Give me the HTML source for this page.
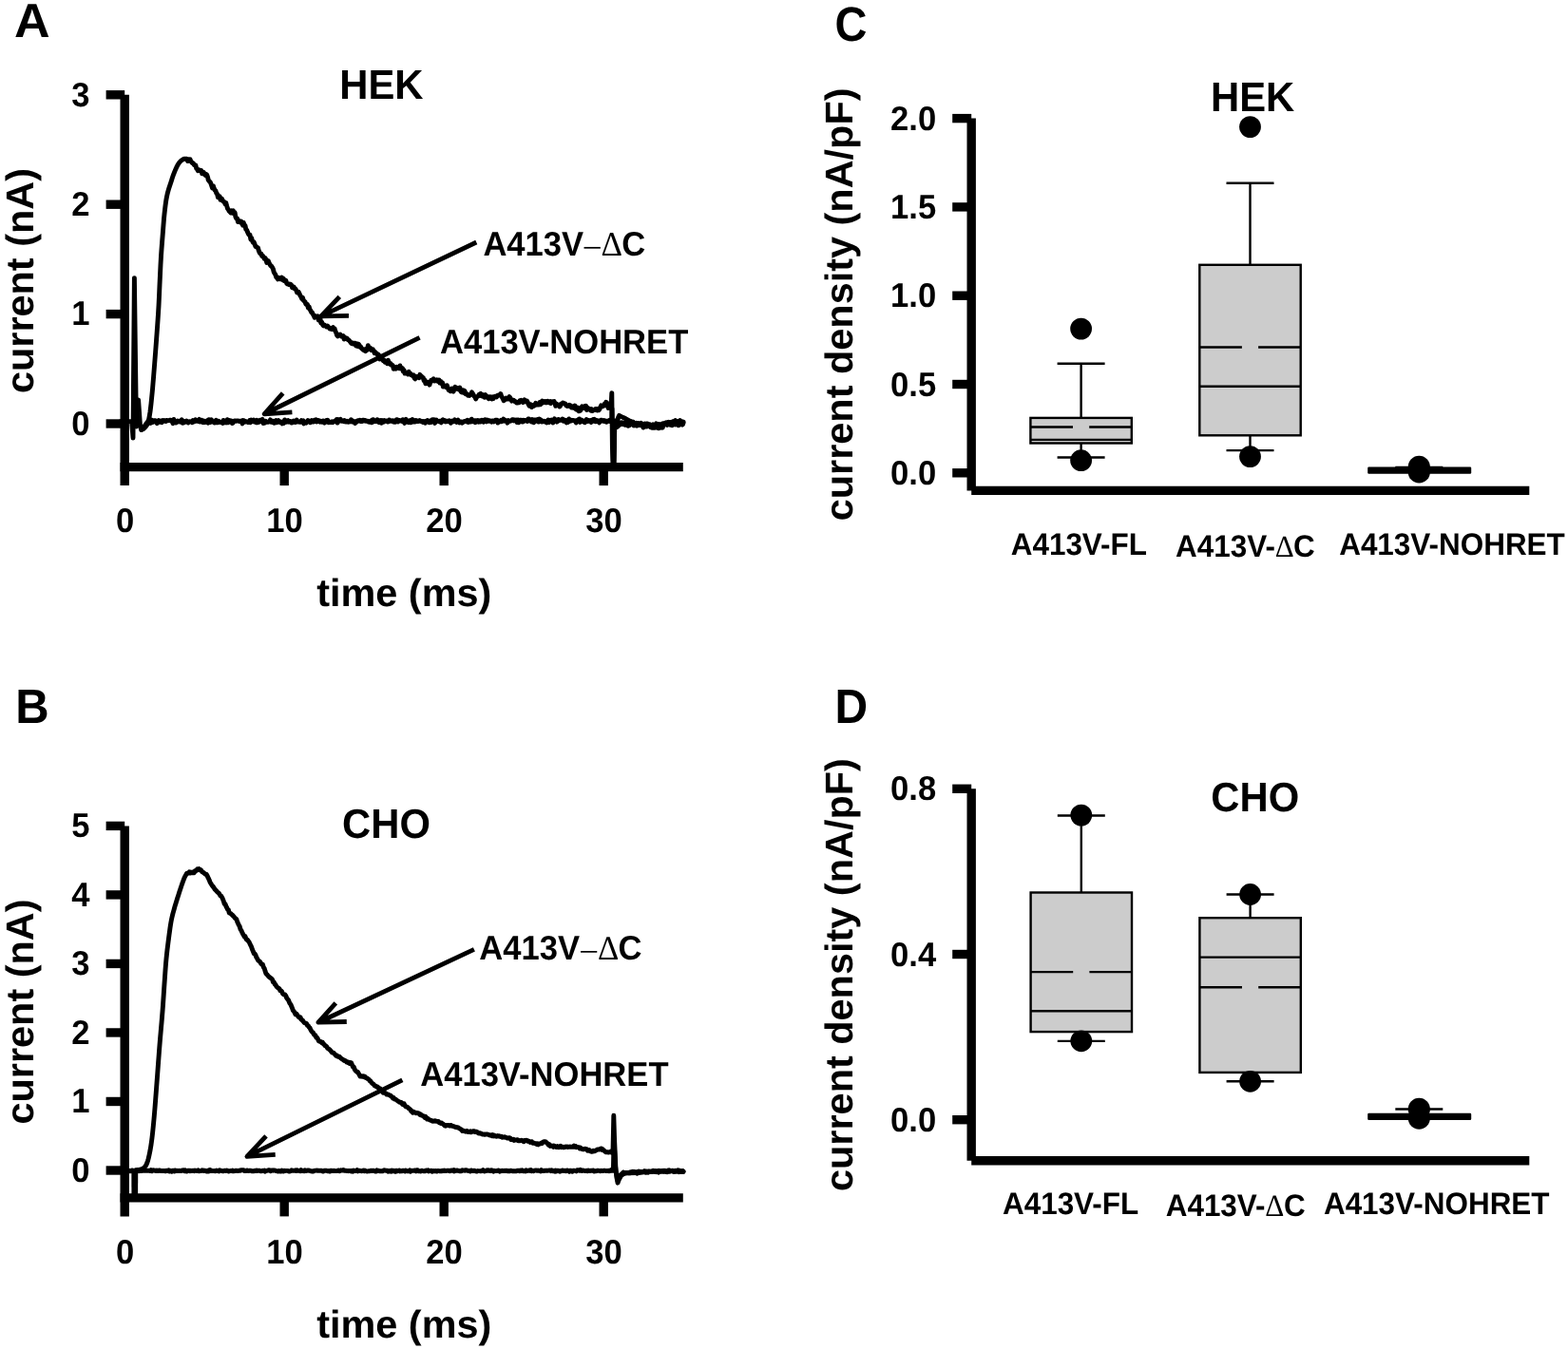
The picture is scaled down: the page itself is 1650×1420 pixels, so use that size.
<!DOCTYPE html>
<html lang="en">
<head>
<meta charset="utf-8">
<title>Figure: A413V currents in HEK and CHO cells</title>
<style>
html, body { margin: 0; padding: 0; background: #ffffff; }
body { width: 1650px; height: 1420px; overflow: hidden; }
svg { display: block; }
svg text { font-family: "Liberation Sans", sans-serif; font-weight: bold; fill: #000; text-rendering: geometricPrecision; }
svg line { stroke: #000; }
</style>
</head>
<body>
<svg width="1650" height="1420" viewBox="0 0 1650 1420" role="img" aria-label="Whole-cell currents and current densities of A413V constructs in HEK and CHO cells">
<rect x="0" y="0" width="1650" height="1420" fill="#ffffff"/>
<text transform="translate(15.098 39) scale(1 0.972)" font-size="52.09">A</text>
<text transform="translate(357.249 103.85) scale(1 1.04)" font-size="41.8">HEK</text>
<text transform="translate(35.1 414.092) rotate(-90) scale(1 0.985)" font-size="41.45">current (nA)</text>
<text transform="translate(333.155 638.2) scale(1 0.985)" font-size="41.45">time (ms)</text>
<polyline points="127.0,443.6 138.6,443.6 140.0,461.0 141.4,292.6 143.4,449.0 145.6,421.0 147.4,447.0 148.6,452.6 150.5,451.5 152.5,448.0 155.0,444.5 158.0,443.6" fill="none" stroke="#000" stroke-width="4.9" stroke-linejoin="round" stroke-linecap="round"/>
<polyline points="156.0,443.5 156.8,443.7 157.7,441.6 158.5,445.4 159.4,442.0 160.2,443.0 161.0,444.3 161.9,442.6 162.7,442.6 163.6,442.7 164.4,444.1 165.2,445.6 166.1,443.7 166.9,442.7 167.8,444.3 168.6,443.1 169.4,443.6 170.3,444.6 171.1,442.5 172.0,443.3 172.8,442.5 173.6,443.2 174.5,443.6 175.3,442.4 176.2,442.7 177.0,442.8 177.8,442.5 178.7,442.2 179.5,442.1 180.4,443.5 181.2,443.4 182.0,445.7 182.9,441.5 183.7,443.8 184.6,444.1 185.4,445.0 186.2,444.3 187.1,443.0 187.9,443.7 188.8,444.0 189.6,443.2 190.4,444.2 191.3,441.7 192.1,445.2 193.0,445.1 193.8,443.5 194.6,444.4 195.5,443.9 196.3,443.0 197.2,444.0 198.0,445.0 198.8,443.8 199.7,443.6 200.5,443.8 201.4,444.1 202.2,444.7 203.0,442.6 203.9,444.0 204.7,443.7 205.6,441.7 206.4,442.9 207.2,443.3 208.1,443.2 208.9,443.6 209.8,441.4 210.6,443.9 211.4,443.1 212.3,442.4 213.1,444.5 214.0,444.7 214.8,443.1 215.6,444.5 216.5,443.5 217.3,443.7 218.2,442.7 219.0,445.2 219.8,441.7 220.7,443.6 221.5,444.3 222.4,441.7 223.2,443.6 224.0,443.7 224.9,444.6 225.7,445.0 226.6,443.4 227.4,442.4 228.2,444.9 229.1,444.8 229.9,443.2 230.8,444.0 231.6,444.1 232.4,444.6 233.3,444.3 234.1,445.4 235.0,442.4 235.8,444.9 236.6,444.0 237.5,443.5 238.3,444.9 239.2,441.7 240.0,444.8 240.8,444.0 241.7,442.6 242.5,443.9 243.4,443.2 244.2,445.6 245.0,445.3 245.9,443.8 246.7,443.0 247.6,443.0 248.4,443.3 249.2,443.1 250.1,442.9 250.9,443.1 251.8,443.5 252.6,443.3 253.4,443.3 254.3,442.9 255.1,445.9 256.0,442.6 256.8,442.9 257.6,444.2 258.5,443.5 259.3,443.8 260.2,444.0 261.0,444.6 261.8,444.2 262.7,442.6 263.5,444.7 264.4,442.0 265.2,443.5 266.0,443.0 266.9,442.2 267.7,443.9 268.6,443.2 269.4,444.6 270.2,442.4 271.1,444.8 271.9,444.5 272.8,444.2 273.6,442.4 274.4,443.3 275.3,442.0 276.1,441.4 277.0,445.5 277.8,444.3 278.6,445.2 279.5,443.2 280.3,444.2 281.2,444.3 282.0,444.3 282.8,443.8 283.7,443.5 284.5,441.9 285.4,444.3 286.2,444.1 287.0,444.6 287.9,443.4 288.7,445.2 289.6,443.2 290.4,442.5 291.2,444.7 292.1,443.2 292.9,442.6 293.8,443.9 294.6,444.5 295.4,444.0 296.3,444.2 297.1,445.9 298.0,444.5 298.8,445.3 299.6,441.9 300.5,444.1 301.3,444.3 302.2,443.2 303.0,442.7 303.8,444.1 304.7,443.7 305.5,443.5 306.4,445.0 307.2,445.1 308.0,443.9 308.9,443.0 309.7,444.1 310.6,444.6 311.4,444.3 312.2,442.1 313.1,443.4 313.9,443.9 314.8,444.2 315.6,444.4 316.4,444.4 317.3,442.6 318.1,443.1 319.0,442.8 319.8,445.9 320.6,444.4 321.5,444.7 322.3,445.1 323.2,443.5 324.0,442.5 324.8,443.2 325.7,443.3 326.5,444.8 327.4,444.2 328.2,442.6 329.0,444.1 329.9,444.1 330.7,442.4 331.6,443.5 332.4,441.8 333.2,443.9 334.1,443.5 334.9,442.5 335.8,443.0 336.6,444.1 337.4,443.4 338.3,444.2 339.1,444.4 340.0,443.0 340.8,443.1 341.6,445.1 342.5,443.3 343.3,442.6 344.2,443.5 345.0,442.4 345.8,444.8 346.7,444.1 347.5,444.6 348.4,444.5 349.2,443.9 350.0,444.7 350.9,444.1 351.7,443.4 352.6,443.0 353.4,443.4 354.2,441.6 355.1,445.1 355.9,441.6 356.8,443.2 357.6,442.2 358.4,441.4 359.3,443.3 360.1,443.2 361.0,443.2 361.8,443.7 362.6,442.7 363.5,443.8 364.3,444.1 365.2,443.3 366.0,443.6 366.8,444.2 367.7,444.0 368.5,443.9 369.4,441.7 370.2,443.8 371.0,444.1 371.9,443.3 372.7,443.9 373.6,445.5 374.4,443.8 375.2,444.4 376.1,442.9 376.9,442.7 377.8,443.1 378.6,442.4 379.4,443.5 380.3,442.7 381.1,443.4 382.0,442.2 382.8,442.1 383.6,443.0 384.5,442.6 385.3,443.3 386.2,443.2 387.0,443.2 387.8,444.2 388.7,444.4 389.5,443.6 390.4,442.8 391.2,444.8 392.0,441.9 392.9,441.7 393.7,443.8 394.6,443.3 395.4,443.3 396.2,443.6 397.1,441.8 397.9,442.3 398.8,444.5 399.6,444.2 400.4,442.5 401.3,445.3 402.1,442.6 403.0,443.2 403.8,444.1 404.6,442.6 405.5,443.1 406.3,443.2 407.2,442.9 408.0,444.0 408.8,443.8 409.7,442.0 410.5,442.5 411.4,443.4 412.2,443.2 413.0,442.7 413.9,444.0 414.7,444.2 415.6,442.7 416.4,444.2 417.2,441.8 418.1,441.8 418.9,443.9 419.8,442.6 420.6,442.4 421.4,443.0 422.3,442.5 423.1,443.5 424.0,441.7 424.8,442.8 425.6,445.4 426.5,443.4 427.3,441.4 428.2,443.8 429.0,443.9 429.8,444.6 430.7,443.4 431.5,442.7 432.4,444.7 433.2,444.0 434.0,441.6 434.9,444.0 435.7,442.8 436.6,444.0 437.4,442.5 438.2,443.4 439.1,443.0 439.9,443.6 440.8,443.1 441.6,442.6 442.4,443.1 443.3,443.7 444.1,443.4 445.0,444.5 445.8,443.6 446.6,443.9 447.5,445.2 448.3,443.3 449.2,443.7 450.0,442.6 450.8,443.3 451.7,444.8 452.5,443.4 453.4,444.5 454.2,442.1 455.0,441.7 455.9,443.3 456.7,441.7 457.6,445.4 458.4,444.3 459.2,442.1 460.1,443.1 460.9,443.1 461.8,443.7 462.6,443.3 463.4,444.1 464.3,444.8 465.1,442.7 466.0,441.9 466.8,443.3 467.6,442.7 468.5,443.9 469.3,443.0 470.2,443.7 471.0,443.4 471.8,443.0 472.7,442.7 473.5,443.6 474.4,445.3 475.2,443.9 476.0,443.0 476.9,443.8 477.7,443.2 478.6,441.9 479.4,443.3 480.2,444.4 481.1,442.7 481.9,442.0 482.8,443.6 483.6,444.9 484.4,443.9 485.3,444.0 486.1,445.2 487.0,444.8 487.8,444.0 488.6,443.4 489.5,443.6 490.3,443.1 491.2,443.9 492.0,442.2 492.8,444.5 493.7,443.3 494.5,442.8 495.4,444.0 496.2,441.2 497.0,442.3 497.9,442.6 498.7,444.0 499.6,442.9 500.4,444.6 501.2,442.7 502.1,443.7 502.9,442.6 503.8,444.2 504.6,443.1 505.4,443.9 506.3,442.7 507.1,442.2 508.0,443.0 508.8,444.2 509.6,442.2 510.5,441.7 511.3,442.8 512.2,443.8 513.0,442.1 513.8,442.6 514.7,443.3 515.5,442.8 516.4,443.3 517.2,444.1 518.0,443.0 518.9,443.0 519.7,443.9 520.6,443.1 521.4,442.3 522.2,442.2 523.1,442.1 523.9,445.1 524.8,443.5 525.6,443.9 526.4,443.9 527.3,442.3 528.1,443.7 529.0,442.5 529.8,441.2 530.6,443.1 531.5,442.2 532.3,442.8 533.2,443.4 534.0,445.1 534.8,442.6 535.7,442.9 536.5,443.3 537.4,443.1 538.2,442.7 539.0,441.7 539.9,441.8 540.7,442.8 541.6,442.1 542.4,442.8 543.2,442.2 544.1,444.5 544.9,441.9 545.8,444.8 546.6,442.4 547.4,442.3 548.3,442.2 549.1,443.9 550.0,444.1 550.8,442.2 551.6,443.1 552.5,442.5 553.3,442.6 554.2,442.9 555.0,443.5 555.8,441.0 556.7,440.9 557.5,443.0 558.4,442.9 559.2,443.8 560.0,441.6 560.9,442.2 561.7,444.8 562.6,441.9 563.4,443.5 564.2,442.3 565.1,442.6 565.9,441.5 566.8,444.1 567.6,441.0 568.4,441.7 569.3,442.0 570.1,443.9 571.0,443.3 571.8,443.7 572.6,443.3 573.5,443.6 574.3,444.1 575.2,444.9 576.0,443.8 576.8,442.0 577.7,444.6 578.5,443.4 579.4,442.3 580.2,443.2 581.0,442.1 581.9,444.9 582.7,442.5 583.6,440.8 584.4,442.9 585.2,442.1 586.1,444.1 586.9,443.3 587.8,441.5 588.6,442.6 589.4,441.9 590.3,442.3 591.1,442.3 592.0,441.0 592.8,443.2 593.6,442.3 594.5,442.2 595.3,443.8 596.2,444.9 597.0,442.4 597.8,444.5 598.7,440.9 599.5,443.5 600.4,442.6 601.2,443.0 602.0,442.3 602.9,442.5 603.7,442.7 604.6,442.7 605.4,443.4 606.2,445.0 607.1,442.4 607.9,442.9 608.8,441.4 609.6,441.0 610.4,444.4 611.3,441.9 612.1,442.3 613.0,443.0 613.8,443.9 614.6,443.3 615.5,444.8 616.3,443.1 617.2,441.6 618.0,443.5 618.8,443.6 619.7,442.6 620.5,442.9 621.4,442.5 622.2,444.5 623.0,442.4 623.9,441.7 624.7,443.3 625.6,441.4 626.4,443.7 627.2,443.7 628.1,442.6 628.9,442.9 629.8,442.9 630.6,444.9 631.4,443.8 632.3,442.1 633.1,442.2 634.0,443.1 634.8,443.3 635.6,442.6 636.5,443.6 637.3,443.0 638.2,444.2 639.0,443.6 639.8,443.0 640.7,443.3 641.5,442.4" fill="none" stroke="#000" stroke-width="4.9" stroke-linejoin="round" stroke-linecap="round"/>
<polyline points="150.0,452.0 150.5,451.7 151.0,451.4 151.5,451.0 152.0,450.5 152.5,450.0 153.0,449.5 153.5,448.9 154.0,448.3 154.5,447.5 155.0,446.6 155.5,445.5 156.0,444.0 156.5,441.9 157.0,439.4 157.5,436.6 158.0,433.4 158.5,429.4 159.0,424.9 159.5,420.0 160.0,415.0 160.5,409.7 161.0,403.8 161.5,397.7 162.0,391.4 162.5,385.0 163.0,378.6 163.5,372.1 164.0,365.5 164.5,358.8 165.0,351.8 165.5,344.8 166.0,337.8 166.5,330.4 167.0,322.0 167.5,311.5 168.0,299.9 168.5,289.1 169.0,278.5 169.5,269.6 170.0,262.3 170.5,255.7 171.0,249.5 171.5,243.1 172.0,236.6 172.5,230.4 173.0,225.2 173.5,220.7 174.0,216.6 174.5,212.9 175.0,209.7 175.5,207.0 176.0,204.7 176.5,202.7 177.0,200.8 177.5,199.1 178.0,197.6 178.5,196.0 179.0,194.5 179.5,193.0 180.0,191.5 180.5,189.9 181.0,188.3 181.5,186.8 182.0,185.3 182.5,183.9 183.0,182.6 183.5,181.3 184.0,180.1 184.5,178.9 185.0,177.8 185.5,176.7 186.0,175.6 186.5,174.6 187.0,173.7 187.5,172.8 188.0,172.1 188.5,171.4 189.0,170.8 189.5,170.2 190.0,169.6 190.5,169.2 191.0,168.8 191.5,168.5 192.0,168.1 192.5,167.8 193.0,167.5 193.5,167.3 194.0,167.2 194.5,167.2 195.0,167.2 195.5,167.2 196.0,167.3 196.5,167.3 197.0,167.4 197.5,167.6" fill="none" stroke="#000" stroke-width="4.9" stroke-linejoin="round" stroke-linecap="round"/>
<polyline points="197.5,169.5 198.3,168.7 199.2,169.1 200.0,167.7 200.9,170.0 201.7,170.6 202.5,171.6 203.4,171.9 204.2,173.5 205.1,173.9 205.9,174.0 206.7,177.3 207.6,178.2 208.4,179.8 209.3,178.8 210.1,179.1 210.9,179.7 211.8,179.4 212.6,182.8 213.5,181.4 214.3,181.5 215.1,182.6 216.0,184.4 216.8,183.4 217.7,184.0 218.5,186.3 219.3,189.6 220.2,190.8 221.0,191.4 221.9,193.2 222.7,195.5 223.5,198.0 224.4,195.8 225.2,198.4 226.1,200.2 226.9,200.8 227.7,203.3 228.6,204.2 229.4,207.6 230.3,207.3 231.1,206.8 231.9,210.2 232.8,210.0 233.6,209.4 234.5,211.4 235.3,212.2 236.1,212.7 237.0,214.7 237.8,213.6 238.7,216.9 239.5,219.5 240.3,220.6 241.2,222.2 242.0,223.0 242.9,223.9 243.7,221.7 244.5,224.2 245.4,221.9 246.2,223.8 247.1,223.7 247.9,228.3 248.7,230.0 249.6,229.9 250.4,233.5 251.3,232.3 252.1,233.6 252.9,234.0 253.8,233.2 254.6,235.1 255.5,237.1 256.3,234.4 257.1,236.9 258.0,237.4 258.8,241.4 259.7,242.1 260.5,244.3 261.3,246.1 262.2,247.4 263.0,247.3 263.9,252.0 264.7,250.7 265.5,253.6 266.4,255.2 267.2,254.9 268.1,257.2 268.9,259.5 269.7,259.7 270.6,260.5 271.4,260.8 272.3,263.9 273.1,265.9 273.9,266.8 274.8,267.1 275.6,269.4 276.5,269.2 277.3,270.5 278.1,272.2 279.0,271.5 279.8,272.9 280.7,276.4 281.5,276.0 282.3,274.6 283.2,276.8 284.0,278.3 284.9,279.9 285.7,280.3 286.5,281.4 287.4,283.1 288.2,286.4 289.1,288.0 289.9,289.2 290.7,291.7 291.6,292.6 292.4,293.8 293.3,292.3 294.1,293.5 294.9,293.9 295.8,293.5 296.6,292.1 297.5,294.6 298.3,293.4 299.1,295.6 300.0,295.3 300.8,295.2 301.7,298.2 302.5,299.0 303.3,298.9 304.2,299.6 305.0,299.0 305.9,299.3 306.7,300.2 307.5,302.7 308.4,302.1 309.2,301.9 310.1,304.1 310.9,304.2 311.7,305.4 312.6,307.9 313.4,307.6 314.3,307.4 315.1,309.2 315.9,311.2 316.8,312.3 317.6,314.4 318.5,313.4 319.3,316.0 320.1,316.9 321.0,317.6 321.8,319.9 322.7,320.8 323.5,320.6 324.3,323.9 325.2,322.8 326.0,325.6 326.9,326.9 327.7,328.7 328.5,328.9 329.4,331.0 330.2,332.2 331.1,334.2 331.9,332.6 332.7,333.8 333.6,333.7 334.4,332.9 335.3,336.9 336.1,334.9 336.9,335.2 337.8,340.0 338.6,339.1 339.5,341.7 340.3,342.8 341.1,341.8 342.0,342.6 342.8,343.0 343.7,344.0 344.5,343.0 345.3,343.9 346.2,344.9 347.0,346.0 347.9,345.5 348.7,346.5 349.5,345.3 350.4,344.6 351.2,346.5 352.1,346.0 352.9,348.6 353.7,350.1 354.6,352.9 355.4,353.8 356.3,352.7 357.1,352.8 357.9,352.0 358.8,353.6 359.6,354.2 360.5,354.6 361.3,353.6 362.1,357.0 363.0,356.7 363.8,355.8 364.7,355.9 365.5,356.6 366.3,357.7 367.2,358.0 368.0,359.2 368.9,360.1 369.7,361.4 370.5,361.8 371.4,361.1 372.2,362.0 373.1,361.3 373.9,361.3 374.7,364.1 375.6,361.8 376.4,364.5 377.3,362.2 378.1,363.2 378.9,365.3 379.8,365.3 380.6,366.9 381.5,367.4 382.3,368.3 383.1,368.9 384.0,367.8 384.8,369.6 385.7,367.0 386.5,368.4 387.3,363.7 388.2,366.1 389.0,367.1 389.9,366.6 390.7,368.5 391.5,368.4 392.4,367.9 393.2,369.1 394.1,371.7 394.9,370.7 395.7,371.7 396.6,372.0 397.4,373.6 398.3,373.2 399.1,375.0 399.9,378.0 400.8,377.3 401.6,377.4 402.5,378.4 403.3,379.7 404.1,378.9 405.0,381.1 405.8,380.7 406.7,380.4 407.5,382.7 408.3,379.2 409.2,381.6 410.0,383.1 410.9,382.5 411.7,384.0 412.5,384.1 413.4,384.7 414.2,388.3 415.1,387.3 415.9,386.8 416.7,388.1 417.6,386.2 418.4,387.2 419.3,386.4 420.1,387.6 420.9,384.9 421.8,388.1 422.6,388.2 423.5,387.7 424.3,390.9 425.1,389.6 426.0,393.1 426.8,392.5 427.7,393.0 428.5,392.7 429.3,393.9 430.2,391.3 431.0,393.6 431.9,393.3 432.7,394.7 433.5,394.7 434.4,395.9 435.2,394.8 436.1,398.0 436.9,398.8 437.7,396.4 438.6,396.4 439.4,396.5 440.3,397.3 441.1,397.7 441.9,394.3 442.8,395.7 443.6,396.2 444.5,397.1 445.3,397.6 446.1,400.6 447.0,400.0 447.8,403.8 448.7,403.8 449.5,402.1 450.3,402.3 451.2,403.1 452.0,405.1 452.9,401.9 453.7,400.4 454.5,401.1 455.4,400.7 456.2,398.8 457.1,400.9 457.9,400.0 458.7,400.7 459.6,399.9 460.4,401.3 461.3,401.6 462.1,400.0 462.9,403.1 463.8,401.5 464.6,403.8 465.5,402.8 466.3,407.0 467.1,405.7 468.0,406.8 468.8,407.4 469.7,405.9 470.5,405.8 471.3,408.6 472.2,410.7 473.0,410.7 473.9,411.9 474.7,411.8 475.5,409.0 476.4,410.6 477.2,412.1 478.1,409.1 478.9,407.3 479.7,408.9 480.6,408.4 481.4,409.5 482.3,408.5 483.1,410.0 483.9,408.0 484.8,411.6 485.6,412.8 486.5,413.1 487.3,410.8 488.1,413.4 489.0,411.4 489.8,414.7 490.7,415.0 491.5,414.7 492.3,416.2 493.2,415.8 494.0,416.4 494.9,415.4 495.7,415.3 496.5,412.8 497.4,414.2 498.2,415.6 499.1,417.2 499.9,417.6 500.7,419.9 501.6,418.0 502.4,417.5 503.3,416.9 504.1,415.2 504.9,415.1 505.8,414.3 506.6,416.8 507.5,415.3 508.3,417.2 509.1,416.3 510.0,418.3 510.8,415.6 511.7,418.0 512.5,417.3 513.3,418.4 514.2,419.7 515.0,417.6 515.9,417.7 516.7,418.4 517.5,420.0 518.4,417.9 519.2,419.5 520.1,417.6 520.9,417.2 521.7,417.6 522.6,417.9 523.4,416.3 524.3,416.0 525.1,416.0 525.9,415.9 526.8,414.5 527.6,417.0 528.5,418.3 529.3,420.0 530.1,421.7 531.0,420.9 531.8,420.5 532.7,419.0 533.5,419.7 534.3,420.0 535.2,420.1 536.0,417.5 536.9,418.9 537.7,420.2 538.5,422.1 539.4,421.2 540.2,421.1 541.1,421.7 541.9,422.8 542.7,422.8 543.6,424.1 544.4,424.1 545.3,423.5 546.1,423.8 546.9,421.8 547.8,422.4 548.6,421.4 549.5,422.1 550.3,423.6 551.1,422.6 552.0,420.9 552.8,422.8 553.7,422.6 554.5,422.0 555.3,423.4 556.2,425.8 557.0,427.1 557.9,425.5 558.7,427.6 559.5,428.4 560.4,426.5 561.2,427.5 562.1,427.0 562.9,426.7 563.7,424.3 564.6,425.1 565.4,426.1 566.3,425.8 567.1,426.0 567.9,423.6 568.8,425.7 569.6,424.3 570.5,422.0 571.3,424.0 572.1,422.7 573.0,423.4 573.8,422.6 574.7,423.8 575.5,422.7 576.3,422.3 577.2,423.7 578.0,423.1 578.9,422.6 579.7,424.5 580.5,422.9 581.4,422.8 582.2,423.0 583.1,422.6 583.9,424.2 584.7,427.3 585.6,425.0 586.4,426.6 587.3,426.1 588.1,426.2 588.9,428.0 589.8,426.9 590.6,424.9 591.5,425.1 592.3,424.0 593.1,424.4 594.0,424.6 594.8,425.0 595.7,426.7 596.5,427.3 597.3,427.5 598.2,427.2 599.0,426.3 599.9,427.9 600.7,427.1 601.5,429.1 602.4,428.9 603.2,429.2 604.1,428.1 604.9,427.0 605.7,430.4 606.6,431.2 607.4,428.9 608.3,431.1 609.1,432.8 609.9,429.7 610.8,432.1 611.6,429.2 612.5,427.9 613.3,429.8 614.1,428.3 615.0,427.7 615.8,429.8 616.7,427.2 617.5,431.6 618.3,429.2 619.2,430.7 620.0,430.2 620.9,431.4 621.7,432.1 622.5,430.6 623.4,432.5 624.2,431.6 625.1,431.3 625.9,431.5 626.7,430.5 627.6,430.4 628.4,432.0 629.3,430.6 630.1,431.7 630.9,430.7 631.8,428.5 632.6,426.9 633.5,427.4 634.3,427.7 635.1,426.9 636.0,425.4 636.8,426.8 637.7,423.3 638.5,423.8 639.3,426.3 640.2,429.5 641.0,428.7 641.9,427.6 642.7,429.5" fill="none" stroke="#000" stroke-width="4.9" stroke-linejoin="round" stroke-linecap="round"/>
<polyline points="643.0,429.0 643.8,413.6 644.4,470.0 645.0,489.0 646.3,489.0 646.6,452.0 647.5,443.0 649.6,449.4 650.3,440.0 651.6,437.4 654.0,438.6 657.0,440.0 660.0,441.6 663.2,443.4" fill="none" stroke="#000" stroke-width="4.9" stroke-linejoin="round" stroke-linecap="round"/>
<polyline points="642.0,443.6 643.8,443.6 644.0,430.0 645.4,489.0 646.4,470.0 646.8,447.0" fill="none" stroke="#000" stroke-width="4.9" stroke-linejoin="round" stroke-linecap="round"/>
<polyline points="646.8,447.1 647.6,447.4 648.5,445.7 649.3,447.3 650.2,446.0 651.0,444.7 651.8,445.6 652.7,446.7 653.5,446.3 654.4,444.7 655.2,446.3 656.0,445.4 656.9,445.8 657.7,445.6 658.6,444.0 659.4,445.4 660.2,444.3 661.1,446.3 661.9,445.3 662.8,444.5 663.6,443.5 664.4,444.8 665.3,445.2 666.1,444.1 667.0,447.8 667.8,446.2 668.6,447.8 669.5,445.2 670.3,448.2 671.2,445.4 672.0,446.2 672.8,447.6 673.7,447.3 674.5,445.2 675.4,446.4 676.2,448.5 677.0,450.0 677.9,448.9 678.7,447.8 679.6,449.0 680.4,447.2 681.2,448.9 682.1,447.2 682.9,448.6 683.8,448.6 684.6,449.6 685.4,448.6 686.3,450.3 687.1,449.0 688.0,450.3 688.8,450.4 689.6,448.0 690.5,450.0 691.3,450.2 692.2,449.6 693.0,450.7 693.8,448.8 694.7,450.2 695.5,449.5 696.4,448.8 697.2,450.1 698.0,447.8 698.9,447.1 699.7,445.9 700.6,446.4 701.4,444.8 702.2,446.6 703.1,444.5 703.9,445.1 704.8,446.7 705.6,445.6 706.4,444.5 707.3,445.4 708.1,443.8 709.0,444.4 709.8,443.4 710.6,442.7 711.5,444.2 712.3,444.9 713.2,443.8 714.0,443.3 714.8,444.1 715.7,442.6 716.5,444.4 717.4,443.8 718.2,446.8 719.0,444.1" fill="none" stroke="#000" stroke-width="4.9" stroke-linejoin="round" stroke-linecap="round"/>
<polyline points="646.8,446.7 647.6,446.1 648.5,448.5 649.3,446.2 650.2,446.6 651.0,448.0 651.8,445.6 652.7,445.9 653.5,446.6 654.4,446.2 655.2,445.5 656.0,446.5 656.9,446.4 657.7,447.2 658.6,445.1 659.4,446.0 660.2,447.8 661.1,448.3 661.9,445.6 662.8,447.5 663.6,445.9 664.4,446.0 665.3,446.0 666.1,446.3 667.0,447.7 667.8,447.1 668.6,446.4 669.5,446.1 670.3,446.6 671.2,446.4 672.0,447.5 672.8,446.4 673.7,447.0 674.5,446.7 675.4,446.7 676.2,446.9 677.0,446.6 677.9,447.6 678.7,446.0 679.6,447.6 680.4,446.0 681.2,445.9 682.1,446.4 682.9,446.8 683.8,446.8 684.6,447.8 685.4,447.8 686.3,447.5 687.1,446.8 688.0,447.1 688.8,448.6 689.6,447.4 690.5,445.9 691.3,446.5 692.2,446.5 693.0,447.8 693.8,446.5 694.7,448.5 695.5,446.9 696.4,446.3 697.2,445.8 698.0,447.2 698.9,446.1 699.7,445.4 700.6,446.8 701.4,446.4 702.2,447.4 703.1,446.4 703.9,444.4 704.8,447.1 705.6,444.5 706.4,447.6 707.3,447.7 708.1,445.6 709.0,445.0 709.8,444.7 710.6,446.9 711.5,445.8 712.3,445.4 713.2,445.7 714.0,447.8 714.8,446.2 715.7,446.5 716.5,446.6 717.4,446.9 718.2,447.1 719.0,445.3" fill="none" stroke="#000" stroke-width="4.9" stroke-linejoin="round" stroke-linecap="round"/>
<line x1="131.2" y1="99.8" x2="131.2" y2="511.1" stroke-width="9.4"/>
<line x1="126.49999999999999" y1="491.6" x2="718.8" y2="491.6" stroke-width="9.4"/>
<line x1="111.6" y1="446.0" x2="131.2" y2="446.0" stroke-width="9.4"/>
<text transform="translate(75.3 457.75) scale(1 1.04)" font-size="34.6">0</text>
<line x1="111.6" y1="330.6" x2="131.2" y2="330.6" stroke-width="9.4"/>
<text transform="translate(75.3 342.35) scale(1 1.04)" font-size="34.6">1</text>
<line x1="111.6" y1="215.2" x2="131.2" y2="215.2" stroke-width="9.4"/>
<text transform="translate(75.3 226.95) scale(1 1.04)" font-size="34.6">2</text>
<line x1="111.6" y1="99.79999999999995" x2="131.2" y2="99.79999999999995" stroke-width="9.4"/>
<text transform="translate(75.3 111.55) scale(1 1.04)" font-size="34.6">3</text>
<text transform="translate(131.5 560.45) scale(1 1.04)" font-size="34.6" text-anchor="middle">0</text>
<line x1="299.2" y1="491.6" x2="299.2" y2="511.1" stroke-width="9.4"/>
<text transform="translate(299.5 560.45) scale(1 1.04)" font-size="34.6" text-anchor="middle">10</text>
<line x1="467.2" y1="491.6" x2="467.2" y2="511.1" stroke-width="9.4"/>
<text transform="translate(467.5 560.45) scale(1 1.04)" font-size="34.6" text-anchor="middle">20</text>
<line x1="635.2" y1="491.6" x2="635.2" y2="511.1" stroke-width="9.4"/>
<text transform="translate(635.5 560.45) scale(1 1.04)" font-size="34.6" text-anchor="middle">30</text>
<path d="M501.3 255.0 L337.74 332.84 M357.3 312.4 L337.74 332.84 L367.0 332.4" fill="none" stroke="#000" stroke-width="4.8" stroke-linejoin="round" stroke-linecap="butt"/>
<path d="M441.6 355.4 L278.11 435.77 M297.7 413.9 L278.11 435.77 L307.4 433.8" fill="none" stroke="#000" stroke-width="4.8" stroke-linejoin="round" stroke-linecap="butt"/>
<text transform="translate(508.402 269) scale(1 1.04)" font-size="34.6"><tspan x="0" font-size="34.6">A413V</tspan><tspan x="106.251" font-size="33.786" font-family='"Liberation Serif", serif' font-weight="normal">–</tspan><tspan x="124.21" font-size="34.98" font-family='"Liberation Serif", serif' font-weight="normal">Δ</tspan><tspan x="145.982" font-size="34.6">C</tspan></text>
<text transform="translate(462.946 371.5) scale(1 1.04)" font-size="34.6">A413V-NOHRET</text>
<text transform="translate(16.291 760.6) scale(1 1.036)" font-size="49.016">B</text>
<text transform="translate(360.102 882.2) scale(1 1.04)" font-size="41.8">CHO</text>
<text transform="translate(35.1 1183.542) rotate(-90) scale(1 0.985)" font-size="41.45">current (nA)</text>
<text transform="translate(333.155 1407.5) scale(1 0.985)" font-size="41.45">time (ms)</text>
<polyline points="127.0,1232.9 127.8,1232.2 128.7,1232.2 129.5,1231.6 130.4,1232.4 131.2,1232.4 132.0,1232.3 132.9,1232.6 133.7,1232.6 134.6,1232.1 135.4,1232.1 136.2,1232.3 137.1,1232.8 137.9,1232.7 138.8,1232.0 139.6,1231.9 140.4,1232.7 141.3,1233.0 142.1,1232.4 143.0,1232.0 143.8,1232.7 144.6,1232.1 145.5,1232.4 146.3,1232.7 147.2,1232.5 148.0,1232.2 148.8,1232.5 149.7,1232.0 150.5,1232.3 151.4,1232.1 152.2,1232.4 153.0,1232.3 153.9,1232.4 154.7,1232.2 155.6,1232.3 156.4,1232.2 157.2,1232.3 158.1,1232.6 158.9,1231.6 159.8,1232.7 160.6,1232.1 161.4,1231.7 162.3,1232.1 163.1,1232.2 164.0,1232.6 164.8,1231.9 165.6,1232.4 166.5,1232.6 167.3,1231.9 168.2,1232.0 169.0,1232.6 169.8,1232.5 170.7,1232.6 171.5,1232.4 172.4,1232.5 173.2,1232.4 174.0,1232.8 174.9,1232.1 175.7,1232.3 176.6,1232.6 177.4,1231.9 178.2,1233.0 179.1,1232.2 179.9,1232.5 180.8,1233.2 181.6,1232.2 182.4,1232.2 183.3,1233.0 184.1,1232.0 185.0,1232.2 185.8,1232.5 186.6,1232.3 187.5,1232.5 188.3,1232.3 189.2,1232.6 190.0,1232.5 190.8,1232.5 191.7,1232.0 192.5,1232.1 193.4,1231.7 194.2,1232.7 195.0,1231.9 195.9,1232.9 196.7,1233.1 197.6,1232.1 198.4,1232.2 199.2,1232.3 200.1,1232.7 200.9,1232.2 201.8,1232.5 202.6,1232.4 203.4,1232.2 204.3,1232.8 205.1,1232.0 206.0,1232.3 206.8,1232.4 207.6,1232.6 208.5,1231.8 209.3,1232.8 210.2,1232.6 211.0,1232.6 211.8,1232.4 212.7,1231.8 213.5,1232.0 214.4,1232.5 215.2,1232.2 216.0,1232.1 216.9,1232.8 217.7,1233.0 218.6,1232.2 219.4,1233.0 220.2,1231.7 221.1,1231.5 221.9,1232.6 222.8,1232.3 223.6,1232.5 224.4,1232.6 225.3,1232.5 226.1,1232.8 227.0,1232.6 227.8,1232.0 228.6,1232.5 229.5,1232.3 230.3,1232.9 231.2,1231.8 232.0,1232.4 232.8,1232.2 233.7,1232.5 234.5,1232.9 235.4,1232.5 236.2,1232.1 237.0,1232.4 237.9,1232.6 238.7,1232.0 239.6,1232.3 240.4,1233.0 241.2,1232.8 242.1,1232.5 242.9,1232.5 243.8,1232.5 244.6,1232.1 245.4,1232.9 246.3,1232.6 247.1,1232.6 248.0,1232.1 248.8,1232.2 249.6,1232.6 250.5,1232.5 251.3,1232.1 252.2,1232.3 253.0,1232.2 253.8,1231.7 254.7,1231.7 255.5,1231.7 256.4,1231.7 257.2,1232.5 258.0,1232.6 258.9,1232.5 259.7,1231.9 260.6,1232.1 261.4,1232.5 262.2,1232.3 263.1,1232.4 263.9,1232.2 264.8,1232.6 265.6,1232.9 266.4,1232.8 267.3,1232.9 268.1,1232.3 269.0,1232.6 269.8,1232.0 270.6,1232.5 271.5,1232.1 272.3,1232.1 273.2,1232.2 274.0,1232.8 274.8,1232.7 275.7,1232.6 276.5,1232.2 277.4,1232.6 278.2,1232.1 279.0,1233.1 279.9,1232.4 280.7,1232.4 281.6,1232.2 282.4,1231.6 283.2,1231.7 284.1,1232.2 284.9,1232.8 285.8,1231.9 286.6,1232.0 287.4,1232.2 288.3,1231.9 289.1,1231.9 290.0,1232.4 290.8,1232.6 291.6,1232.7 292.5,1233.1 293.3,1232.4 294.2,1232.7 295.0,1233.1 295.8,1233.0 296.7,1232.0 297.5,1232.5 298.4,1233.0 299.2,1232.2 300.0,1232.5 300.9,1232.4 301.7,1232.4 302.6,1232.4 303.4,1232.7 304.2,1233.1 305.1,1233.1 305.9,1232.5 306.8,1231.8 307.6,1232.4 308.4,1232.2 309.3,1232.4 310.1,1232.3 311.0,1231.7 311.8,1232.5 312.6,1231.7 313.5,1232.1 314.3,1232.4 315.2,1232.5 316.0,1232.8 316.8,1231.6 317.7,1232.5 318.5,1232.6 319.4,1232.3 320.2,1232.7 321.0,1231.9 321.9,1232.5 322.7,1232.5 323.6,1231.9 324.4,1232.0 325.2,1232.4 326.1,1232.2 326.9,1232.8 327.8,1232.6 328.6,1233.1 329.4,1233.0 330.3,1232.5 331.1,1232.4 332.0,1232.1 332.8,1232.1 333.6,1232.0 334.5,1232.4 335.3,1232.1 336.2,1232.4 337.0,1232.4 337.8,1232.2 338.7,1232.4 339.5,1233.0 340.4,1233.0 341.2,1232.3 342.0,1232.4 342.9,1232.2 343.7,1232.2 344.6,1232.8 345.4,1232.5 346.2,1232.8 347.1,1233.1 347.9,1232.2 348.8,1232.3 349.6,1232.4 350.4,1232.6 351.3,1232.2 352.1,1232.5 353.0,1232.6 353.8,1232.6 354.6,1232.6 355.5,1232.2 356.3,1231.9 357.2,1232.8 358.0,1232.5 358.8,1231.8 359.7,1232.0 360.5,1232.0 361.4,1231.5 362.2,1232.3 363.0,1232.1 363.9,1232.2 364.7,1232.6 365.6,1232.5 366.4,1232.7 367.2,1232.5 368.1,1232.5 368.9,1232.5 369.8,1233.0 370.6,1232.3 371.4,1233.1 372.3,1232.1 373.1,1232.6 374.0,1232.5 374.8,1232.3 375.6,1231.7 376.5,1232.9 377.3,1232.1 378.2,1232.2 379.0,1232.5 379.8,1232.6 380.7,1232.7 381.5,1232.4 382.4,1232.0 383.2,1232.7 384.0,1232.1 384.9,1232.6 385.7,1232.8 386.6,1233.0 387.4,1232.7 388.2,1232.7 389.1,1232.7 389.9,1232.1 390.8,1232.5 391.6,1232.3 392.4,1232.1 393.3,1232.5 394.1,1232.4 395.0,1233.1 395.8,1233.0 396.6,1231.9 397.5,1232.6 398.3,1232.2 399.2,1232.7 400.0,1232.7 400.8,1232.9 401.7,1232.7 402.5,1232.8 403.4,1232.3 404.2,1231.7 405.0,1232.0 405.9,1232.2 406.7,1232.3 407.6,1232.2 408.4,1233.2 409.2,1232.5 410.1,1233.0 410.9,1232.4 411.8,1233.2 412.6,1232.1 413.4,1232.8 414.3,1232.2 415.1,1232.8 416.0,1233.3 416.8,1232.1 417.6,1232.3 418.5,1232.7 419.3,1232.5 420.2,1232.0 421.0,1232.9 421.8,1232.5 422.7,1232.9 423.5,1232.4 424.4,1232.1 425.2,1232.3 426.0,1233.0 426.9,1232.0 427.7,1232.4 428.6,1232.8 429.4,1232.9 430.2,1232.8 431.1,1231.9 431.9,1233.1 432.8,1232.3 433.6,1232.4 434.4,1232.4 435.3,1232.3 436.1,1232.0 437.0,1232.2 437.8,1232.8 438.6,1231.8 439.5,1231.7 440.3,1232.7 441.2,1232.6 442.0,1232.7 442.8,1233.0 443.7,1232.2 444.5,1232.4 445.4,1232.6 446.2,1232.8 447.0,1232.8 447.9,1232.1 448.7,1232.0 449.6,1232.4 450.4,1231.9 451.2,1232.9 452.1,1232.4 452.9,1232.4 453.8,1232.3 454.6,1233.2 455.4,1232.6 456.3,1232.4 457.1,1232.9 458.0,1232.5 458.8,1232.7 459.6,1233.1 460.5,1232.4 461.3,1232.5 462.2,1232.6 463.0,1232.8 463.8,1232.6 464.7,1232.7 465.5,1232.3 466.4,1232.5 467.2,1232.0 468.0,1232.6 468.9,1232.3 469.7,1232.5 470.6,1232.2 471.4,1232.1 472.2,1232.1 473.1,1232.7 473.9,1232.3 474.8,1232.4 475.6,1231.9 476.4,1232.3 477.3,1231.7 478.1,1233.0 479.0,1232.3 479.8,1232.4 480.6,1232.0 481.5,1232.0 482.3,1232.6 483.2,1232.4 484.0,1232.8 484.8,1232.9 485.7,1232.7 486.5,1231.7 487.4,1232.0 488.2,1231.9 489.0,1232.2 489.9,1231.8 490.7,1231.7 491.6,1232.2 492.4,1232.2 493.2,1232.6 494.1,1232.4 494.9,1233.0 495.8,1231.9 496.6,1232.1 497.4,1232.5 498.3,1232.3 499.1,1232.1 500.0,1232.7 500.8,1232.9 501.6,1233.1 502.5,1232.5 503.3,1232.6 504.2,1232.6 505.0,1232.6 505.8,1232.8 506.7,1232.3 507.5,1232.6 508.4,1231.7 509.2,1232.7 510.0,1233.0 510.9,1232.4 511.7,1232.6 512.6,1231.7 513.4,1232.3 514.2,1231.8 515.1,1232.4 515.9,1232.6 516.8,1231.8 517.6,1231.9 518.4,1232.2 519.3,1233.2 520.1,1232.3 521.0,1232.5 521.8,1232.6 522.6,1232.5 523.5,1232.3 524.3,1232.0 525.2,1232.1 526.0,1233.1 526.8,1232.6 527.7,1232.5 528.5,1232.1 529.4,1232.6 530.2,1232.5 531.0,1232.2 531.9,1232.6 532.7,1232.1 533.6,1232.3 534.4,1232.7 535.2,1232.5 536.1,1232.9 536.9,1232.4 537.8,1232.2 538.6,1232.6 539.4,1232.7 540.3,1232.9 541.1,1232.7 542.0,1232.6 542.8,1232.7 543.6,1232.7 544.5,1232.2 545.3,1232.4 546.2,1232.3 547.0,1232.7 547.8,1232.0 548.7,1232.5 549.5,1231.8 550.4,1232.3 551.2,1232.8 552.0,1232.4 552.9,1232.9 553.7,1231.9 554.6,1232.5 555.4,1232.4 556.2,1232.3 557.1,1231.8 557.9,1232.5 558.8,1231.5 559.6,1232.8 560.4,1232.5 561.3,1232.7 562.1,1232.3 563.0,1232.0 563.8,1232.1 564.6,1232.0 565.5,1232.4 566.3,1232.0 567.2,1232.4 568.0,1232.4 568.8,1232.9 569.7,1231.6 570.5,1232.2 571.4,1232.6 572.2,1232.6 573.0,1232.1 573.9,1232.3 574.7,1232.3 575.6,1232.4 576.4,1232.1 577.2,1232.1 578.1,1231.9 578.9,1232.0 579.8,1232.6 580.6,1231.8 581.4,1232.3 582.3,1232.8 583.1,1232.3 584.0,1233.1 584.8,1232.2 585.6,1233.0 586.5,1232.4 587.3,1232.1 588.2,1232.7 589.0,1233.2 589.8,1232.4 590.7,1232.7 591.5,1232.0 592.4,1232.0 593.2,1232.5 594.0,1232.3 594.9,1232.4 595.7,1232.7 596.6,1231.9 597.4,1232.1 598.2,1232.3 599.1,1233.2 599.9,1232.3 600.8,1232.2 601.6,1232.6 602.4,1233.2 603.3,1232.2 604.1,1232.3 605.0,1232.4 605.8,1232.4 606.6,1232.9 607.5,1231.7 608.3,1231.6 609.2,1232.2 610.0,1232.4 610.8,1231.4 611.7,1231.9 612.5,1232.5 613.4,1231.9 614.2,1232.4 615.0,1232.4 615.9,1232.6 616.7,1232.4 617.6,1232.3 618.4,1232.7 619.2,1232.0 620.1,1232.3 620.9,1232.6 621.8,1232.1 622.6,1232.2 623.4,1232.1 624.3,1232.0 625.1,1233.0 626.0,1232.6 626.8,1232.9 627.6,1232.5 628.5,1232.3 629.3,1232.2 630.2,1232.4 631.0,1232.4 631.8,1232.8 632.7,1232.2 633.5,1232.5 634.4,1232.6 635.2,1232.2 636.0,1232.2 636.9,1232.4 637.7,1232.5 638.6,1232.4 639.4,1232.6 640.2,1232.3 641.1,1232.7 641.9,1232.4 642.8,1231.7" fill="none" stroke="#000" stroke-width="4.9" stroke-linejoin="round" stroke-linecap="round"/>
<line x1="140.8" y1="1230" x2="140.9" y2="1262" stroke-width="4.9"/>
<line x1="142.6" y1="1262" x2="142.8" y2="1232" stroke-width="4.9"/>
<polyline points="143.0,1231.6 143.5,1231.6 144.0,1231.6 144.5,1231.5 145.0,1231.5 145.5,1231.4 146.0,1231.4 146.5,1231.3 147.0,1231.2 147.5,1231.1 148.0,1231.0 148.5,1230.9 149.0,1230.7 149.5,1230.5 150.0,1230.2 150.5,1229.9 151.0,1229.6 151.5,1229.2 152.0,1228.8 152.5,1228.3 153.0,1227.7 153.5,1226.9 154.0,1226.0 154.5,1224.8 155.0,1223.5 155.5,1222.0 156.0,1220.2 156.5,1218.2 157.0,1216.0 157.5,1213.6 158.0,1211.1 158.5,1208.2 159.0,1205.0 159.5,1201.5 160.0,1197.6 160.5,1193.2 161.0,1188.5 161.5,1183.3 162.0,1178.0 162.5,1172.3 163.0,1166.2 163.5,1159.8 164.0,1153.2 164.5,1146.6 165.0,1140.0 165.5,1133.4 166.0,1126.6 166.5,1119.8 167.0,1113.1 167.5,1106.4 168.0,1100.0 168.5,1093.9 169.0,1088.1 169.5,1082.4 170.0,1076.7 170.5,1070.8 171.0,1064.6 171.5,1057.9 172.0,1050.5 172.5,1042.8 173.0,1035.5 173.5,1028.3 174.0,1021.2 174.5,1014.6 175.0,1009.1 175.5,1004.2 176.0,999.8 176.5,995.7 177.0,991.7 177.5,987.9 178.0,984.0 178.5,980.3 179.0,976.7 179.5,973.4 180.0,970.4 180.5,967.8 181.0,965.5 181.5,963.4 182.0,961.4 182.5,959.6 183.0,957.8 183.5,956.0 184.0,954.2 184.5,952.5 185.0,950.9 185.5,949.2 186.0,947.7 186.5,946.1 187.0,944.5 187.5,942.9 188.0,941.4 188.5,939.8 189.0,938.2 189.5,936.7 190.0,935.2 190.5,933.7 191.0,932.3 191.5,930.8 192.0,929.4 192.5,928.0 193.0,926.6 193.5,925.3 194.0,924.1 194.5,923.0 195.0,922.0 195.5,921.2 196.0,920.4 196.5,919.7" fill="none" stroke="#000" stroke-width="4.9" stroke-linejoin="round" stroke-linecap="round"/>
<polyline points="196.7,919.6 197.5,918.9 198.4,919.0 199.2,917.9 200.1,919.0 200.9,918.0 201.7,918.7 202.6,918.7 203.4,917.9 204.3,918.7 205.1,916.8 205.9,916.7 206.8,916.4 207.6,914.7 208.5,915.3 209.3,914.7 210.1,915.8 211.0,915.5 211.8,916.1 212.7,917.7 213.5,918.1 214.3,918.6 215.2,919.5 216.0,920.2 216.9,920.1 217.7,920.9 218.5,922.9 219.4,924.7 220.2,926.3 221.1,928.7 221.9,930.0 222.7,931.3 223.6,932.6 224.4,933.5 225.3,934.8 226.1,936.1 226.9,936.8 227.8,937.8 228.6,938.9 229.5,939.5 230.3,940.3 231.1,941.4 232.0,942.9 232.8,943.3 233.7,944.7 234.5,946.5 235.3,948.6 236.2,951.6 237.0,951.4 237.9,954.1 238.7,955.4 239.5,957.2 240.4,957.8 241.2,960.8 242.1,961.3 242.9,961.7 243.7,962.6 244.6,963.1 245.4,964.2 246.3,965.0 247.1,966.3 247.9,966.9 248.8,967.5 249.6,969.9 250.5,971.9 251.3,973.7 252.1,975.0 253.0,978.2 253.8,979.2 254.7,981.3 255.5,983.0 256.3,984.4 257.2,985.9 258.0,985.6 258.9,988.2 259.7,989.3 260.5,989.5 261.4,990.8 262.2,991.8 263.1,993.7 263.9,995.3 264.7,997.1 265.6,999.7 266.4,1001.5 267.3,1003.8 268.1,1004.0 268.9,1005.1 269.8,1007.6 270.6,1008.8 271.5,1010.7 272.3,1011.5 273.1,1011.9 274.0,1013.0 274.8,1014.5 275.7,1015.1 276.5,1015.4 277.3,1018.1 278.2,1019.4 279.0,1022.1 279.9,1024.7 280.7,1025.5 281.5,1026.4 282.4,1027.6 283.2,1028.3 284.1,1029.0 284.9,1029.6 285.7,1030.1 286.6,1031.1 287.4,1033.7 288.3,1033.8 289.1,1036.0 289.9,1036.3 290.8,1038.2 291.6,1039.1 292.5,1039.8 293.3,1040.3 294.1,1040.9 295.0,1042.9 295.8,1042.9 296.7,1043.9 297.5,1046.0 298.3,1046.7 299.2,1046.7 300.0,1047.2 300.9,1048.5 301.7,1050.5 302.5,1051.6 303.4,1052.6 304.2,1054.4 305.1,1056.4 305.9,1057.3 306.7,1059.2 307.6,1061.4 308.4,1063.7 309.3,1064.7 310.1,1065.9 310.9,1067.6 311.8,1067.1 312.6,1068.1 313.5,1069.6 314.3,1070.5 315.1,1071.1 316.0,1070.7 316.8,1072.9 317.7,1073.7 318.5,1074.2 319.3,1075.4 320.2,1076.6 321.0,1076.8 321.9,1077.2 322.7,1077.7 323.5,1079.4 324.4,1079.9 325.2,1081.2 326.1,1082.1 326.9,1083.9 327.7,1085.3 328.6,1086.3 329.4,1086.8 330.3,1088.8 331.1,1089.7 331.9,1089.8 332.8,1092.2 333.6,1092.1 334.5,1093.7 335.3,1095.7 336.1,1096.2 337.0,1096.2 337.8,1096.6 338.7,1097.8 339.5,1097.4 340.3,1099.0 341.2,1099.3 342.0,1100.7 342.9,1101.2 343.7,1101.7 344.5,1103.2 345.4,1103.9 346.2,1104.3 347.1,1105.1 347.9,1105.9 348.7,1107.0 349.6,1108.0 350.4,1108.3 351.3,1108.5 352.1,1109.5 352.9,1110.5 353.8,1111.3 354.6,1111.0 355.5,1112.1 356.3,1112.4 357.1,1112.2 358.0,1113.2 358.8,1114.0 359.7,1114.6 360.5,1115.1 361.3,1115.6 362.2,1116.5 363.0,1116.4 363.9,1116.7 364.7,1118.0 365.5,1117.8 366.4,1118.7 367.2,1118.2 368.1,1119.5 368.9,1118.6 369.7,1118.9 370.6,1121.1 371.4,1122.9 372.3,1123.1 373.1,1125.4 373.9,1126.7 374.8,1127.6 375.6,1128.3 376.5,1128.5 377.3,1129.9 378.1,1131.4 379.0,1133.0 379.8,1132.8 380.7,1132.8 381.5,1133.3 382.3,1132.7 383.2,1133.7 384.0,1133.3 384.9,1134.5 385.7,1134.8 386.5,1135.1 387.4,1136.0 388.2,1136.3 389.1,1137.8 389.9,1138.0 390.7,1139.2 391.6,1140.4 392.4,1140.7 393.3,1141.5 394.1,1142.9 394.9,1142.9 395.8,1143.7 396.6,1143.8 397.5,1144.1 398.3,1145.5 399.1,1145.6 400.0,1145.9 400.8,1148.0 401.7,1148.6 402.5,1148.8 403.3,1150.4 404.2,1150.2 405.0,1150.5 405.9,1150.7 406.7,1152.0 407.5,1151.7 408.4,1152.1 409.2,1152.6 410.1,1153.0 410.9,1153.1 411.7,1154.1 412.6,1154.6 413.4,1155.9 414.3,1155.6 415.1,1157.0 415.9,1157.1 416.8,1157.5 417.6,1158.2 418.5,1158.8 419.3,1159.3 420.1,1160.0 421.0,1160.4 421.8,1160.1 422.7,1160.9 423.5,1162.5 424.3,1162.3 425.2,1161.9 426.0,1163.5 426.9,1164.8 427.7,1165.1 428.5,1165.2 429.4,1165.9 430.2,1166.8 431.1,1167.3 431.9,1168.0 432.7,1169.8 433.6,1169.8 434.4,1171.3 435.3,1170.3 436.1,1170.9 436.9,1170.9 437.8,1171.7 438.6,1171.4 439.5,1171.6 440.3,1171.6 441.1,1172.5 442.0,1173.4 442.8,1173.1 443.7,1174.2 444.5,1174.4 445.3,1174.6 446.2,1175.5 447.0,1176.5 447.9,1175.4 448.7,1177.1 449.5,1178.0 450.4,1177.6 451.2,1178.4 452.1,1178.9 452.9,1179.1 453.7,1179.4 454.6,1180.1 455.4,1180.2 456.3,1179.9 457.1,1180.2 457.9,1179.7 458.8,1180.1 459.6,1180.4 460.5,1180.5 461.3,1180.4 462.1,1181.7 463.0,1181.8 463.8,1182.5 464.7,1182.1 465.5,1182.9 466.3,1183.3 467.2,1184.0 468.0,1185.0 468.9,1185.3 469.7,1184.5 470.5,1184.6 471.4,1184.5 472.2,1184.4 473.1,1185.1 473.9,1184.6 474.7,1184.4 475.6,1185.4 476.4,1185.2 477.3,1185.7 478.1,1185.9 478.9,1186.4 479.8,1186.5 480.6,1186.8 481.5,1186.6 482.3,1187.0 483.1,1187.7 484.0,1188.1 484.8,1188.7 485.7,1189.2 486.5,1190.5 487.3,1189.9 488.2,1190.6 489.0,1190.6 489.9,1191.2 490.7,1190.4 491.5,1190.4 492.4,1191.6 493.2,1191.5 494.1,1191.4 494.9,1190.9 495.7,1191.8 496.6,1191.3 497.4,1190.8 498.3,1190.8 499.1,1190.7 499.9,1191.6 500.8,1191.3 501.6,1191.2 502.5,1191.8 503.3,1192.9 504.1,1193.0 505.0,1192.8 505.8,1192.9 506.7,1193.5 507.5,1194.1 508.3,1193.9 509.2,1193.9 510.0,1194.3 510.9,1194.1 511.7,1194.0 512.5,1193.9 513.4,1194.2 514.2,1194.4 515.1,1195.0 515.9,1195.0 516.7,1194.7 517.6,1195.7 518.4,1194.7 519.3,1195.8 520.1,1195.0 520.9,1195.5 521.8,1196.1 522.6,1196.2 523.5,1195.6 524.3,1196.1 525.1,1195.7 526.0,1196.2 526.8,1196.6 527.7,1196.3 528.5,1197.3 529.3,1197.0 530.2,1197.2 531.0,1196.7 531.9,1197.1 532.7,1197.5 533.5,1198.0 534.4,1198.1 535.2,1197.8 536.1,1197.8 536.9,1197.9 537.7,1199.6 538.6,1199.3 539.4,1199.7 540.3,1199.2 541.1,1200.4 541.9,1199.9 542.8,1200.0 543.6,1199.8 544.5,1199.6 545.3,1200.8 546.1,1200.7 547.0,1200.9 547.8,1200.5 548.7,1200.2 549.5,1200.5 550.3,1201.3 551.2,1201.7 552.0,1200.4 552.9,1200.5 553.7,1200.1 554.5,1200.5 555.4,1201.3 556.2,1201.0 557.1,1201.6 557.9,1202.4 558.7,1201.9 559.6,1201.7 560.4,1203.2 561.3,1203.1 562.1,1203.2 562.9,1203.6 563.8,1203.7 564.6,1204.4 565.5,1203.8 566.3,1204.8 567.1,1203.9 568.0,1204.0 568.8,1203.9 569.7,1203.1 570.5,1203.5 571.3,1202.3 572.2,1201.6 573.0,1201.6 573.9,1201.6 574.7,1202.4 575.5,1203.1 576.4,1203.9 577.2,1205.2 578.1,1204.8 578.9,1206.4 579.7,1206.0 580.6,1206.4 581.4,1206.2 582.3,1207.4 583.1,1206.1 583.9,1206.6 584.8,1207.1 585.6,1207.6 586.5,1206.7 587.3,1207.5 588.1,1207.8 589.0,1206.9 589.8,1206.3 590.7,1207.6 591.5,1207.2 592.3,1207.3 593.2,1207.8 594.0,1207.6 594.9,1207.0 595.7,1207.4 596.5,1206.9 597.4,1207.5 598.2,1207.2 599.1,1207.4 599.9,1206.9 600.7,1207.3 601.6,1207.3 602.4,1207.4 603.3,1207.1 604.1,1206.1 604.9,1207.2 605.8,1206.6 606.6,1207.8 607.5,1207.5 608.3,1207.7 609.1,1207.6 610.0,1208.9 610.8,1208.0 611.7,1209.2 612.5,1209.5 613.3,1209.9 614.2,1209.8 615.0,1209.4 615.9,1209.3 616.7,1209.7 617.5,1209.6 618.4,1211.2 619.2,1211.0 620.1,1210.6 620.9,1211.7 621.7,1211.7 622.6,1212.4 623.4,1212.2 624.3,1211.3 625.1,1211.6 625.9,1211.7 626.8,1211.1 627.6,1210.8 628.5,1209.9 629.3,1209.9 630.1,1210.0 631.0,1210.0 631.8,1209.1 632.7,1209.0 633.5,1210.4 634.3,1209.8 635.2,1210.9 636.0,1211.4 636.9,1212.4 637.7,1212.8 638.5,1212.9 639.4,1212.7 640.2,1213.1 641.1,1212.6 641.9,1212.9 642.7,1212.2 643.6,1213.2" fill="none" stroke="#000" stroke-width="4.9" stroke-linejoin="round" stroke-linecap="round"/>
<polyline points="643.9,1212.7 645.0,1213.0 645.8,1174.3 646.6,1200.0 648.0,1232.0 650.0,1245.2 651.4,1241.5 653.6,1237.6 656.5,1235.6 659.7,1234.7 671.8,1234.6" fill="none" stroke="#000" stroke-width="4.9" stroke-linejoin="round" stroke-linecap="round"/>
<polyline points="643.0,1232.3 645.4,1232.3 646.0,1200.0 647.6,1228.0 649.4,1242.0 652.0,1237.5 656.0,1234.4" fill="none" stroke="#000" stroke-width="4.9" stroke-linejoin="round" stroke-linecap="round"/>
<polyline points="656.0,1234.0 656.8,1234.6 657.7,1234.4 658.5,1234.5 659.4,1234.7 660.2,1234.5 661.0,1234.8 661.9,1234.6 662.7,1234.8 663.6,1234.0 664.4,1234.0 665.2,1233.8 666.1,1234.3 666.9,1234.2 667.8,1234.6 668.6,1234.4 669.4,1234.4 670.3,1235.2 671.1,1234.6 672.0,1234.2 672.8,1233.8 673.6,1234.4 674.5,1234.2 675.3,1233.4 676.2,1233.7 677.0,1233.8 677.8,1233.1 678.7,1233.6 679.5,1234.2 680.4,1233.1 681.2,1233.7 682.0,1234.2 682.9,1233.3 683.7,1233.2 684.6,1233.4 685.4,1233.6 686.2,1233.6 687.1,1232.8 687.9,1233.1 688.8,1233.4 689.6,1233.2 690.4,1233.7 691.3,1233.2 692.1,1233.3 693.0,1234.1 693.8,1233.3 694.6,1232.9 695.5,1233.2 696.3,1233.1 697.2,1233.3 698.0,1233.3 698.8,1233.0 699.7,1233.0 700.5,1232.8 701.4,1233.6 702.2,1233.7 703.0,1233.1 703.9,1233.2 704.7,1233.2 705.6,1232.8 706.4,1232.8 707.2,1232.8 708.1,1232.4 708.9,1232.9 709.8,1233.3 710.6,1233.4 711.4,1232.9 712.3,1232.8 713.1,1233.1 714.0,1233.6 714.8,1232.6 715.6,1232.8 716.5,1233.0 717.3,1233.2 718.2,1232.8 719.0,1233.2" fill="none" stroke="#000" stroke-width="4.9" stroke-linejoin="round" stroke-linecap="round"/>
<polyline points="662.0,1234.4 662.8,1234.0 663.7,1234.1 664.5,1234.1 665.4,1233.4 666.2,1234.1 667.0,1233.3 667.9,1234.0 668.7,1233.6 669.6,1234.1 670.4,1233.5 671.2,1233.5 672.1,1233.1 672.9,1233.8 673.8,1233.3 674.6,1233.7 675.4,1233.8 676.3,1233.8 677.1,1233.3 678.0,1232.7 678.8,1232.9 679.6,1233.6 680.5,1233.7 681.3,1233.9 682.2,1233.0 683.0,1232.9 683.8,1233.6 684.7,1233.4 685.5,1232.9 686.4,1232.9 687.2,1232.2 688.0,1232.7 688.9,1233.3 689.7,1232.5 690.6,1232.6 691.4,1232.9 692.2,1232.8 693.1,1232.2 693.9,1232.7 694.8,1232.7 695.6,1232.7 696.4,1232.5 697.3,1232.6 698.1,1232.2 699.0,1233.2 699.8,1232.3 700.6,1233.1 701.5,1233.0 702.3,1232.6 703.2,1232.0 704.0,1231.8 704.8,1232.1 705.7,1232.6 706.5,1232.6 707.4,1232.2 708.2,1232.4 709.0,1233.4 709.9,1232.6 710.7,1232.2 711.6,1232.9 712.4,1232.3 713.2,1231.7 714.1,1232.7 714.9,1232.1 715.8,1232.6 716.6,1233.4 717.4,1232.8 718.3,1232.4 719.1,1233.5" fill="none" stroke="#000" stroke-width="4.9" stroke-linejoin="round" stroke-linecap="round"/>
<line x1="131.2" y1="869.4" x2="131.2" y2="1280.4" stroke-width="9.4"/>
<line x1="126.49999999999999" y1="1260.9" x2="718.8" y2="1260.9" stroke-width="9.4"/>
<line x1="111.6" y1="1232.0" x2="131.2" y2="1232.0" stroke-width="9.4"/>
<text transform="translate(75.3 1243.75) scale(1 1.04)" font-size="34.6">0</text>
<line x1="111.6" y1="1159.48" x2="131.2" y2="1159.48" stroke-width="9.4"/>
<text transform="translate(75.3 1171.23) scale(1 1.04)" font-size="34.6">1</text>
<line x1="111.6" y1="1086.96" x2="131.2" y2="1086.96" stroke-width="9.4"/>
<text transform="translate(75.3 1098.71) scale(1 1.04)" font-size="34.6">2</text>
<line x1="111.6" y1="1014.44" x2="131.2" y2="1014.44" stroke-width="9.4"/>
<text transform="translate(75.3 1026.19) scale(1 1.04)" font-size="34.6">3</text>
<line x1="111.6" y1="941.9200000000001" x2="131.2" y2="941.9200000000001" stroke-width="9.4"/>
<text transform="translate(75.3 953.67) scale(1 1.04)" font-size="34.6">4</text>
<line x1="111.6" y1="869.4000000000001" x2="131.2" y2="869.4000000000001" stroke-width="9.4"/>
<text transform="translate(75.3 881.15) scale(1 1.04)" font-size="34.6">5</text>
<text transform="translate(131.5 1329.75) scale(1 1.04)" font-size="34.6" text-anchor="middle">0</text>
<line x1="299.2" y1="1260.9" x2="299.2" y2="1280.4" stroke-width="9.4"/>
<text transform="translate(299.5 1329.75) scale(1 1.04)" font-size="34.6" text-anchor="middle">10</text>
<line x1="467.2" y1="1260.9" x2="467.2" y2="1280.4" stroke-width="9.4"/>
<text transform="translate(467.5 1329.75) scale(1 1.04)" font-size="34.6" text-anchor="middle">20</text>
<line x1="635.2" y1="1260.9" x2="635.2" y2="1280.4" stroke-width="9.4"/>
<text transform="translate(635.5 1329.75) scale(1 1.04)" font-size="34.6" text-anchor="middle">30</text>
<path d="M498.9 999.4 L335.03 1076.21 M353.3 1055.8 L335.03 1076.21 L364.8 1075.5" fill="none" stroke="#000" stroke-width="4.8" stroke-linejoin="round" stroke-linecap="butt"/>
<path d="M423.4 1136.8 L259.92 1217.38 M280.0 1195.9 L259.92 1217.38 L289.7 1215.3" fill="none" stroke="#000" stroke-width="4.8" stroke-linejoin="round" stroke-linecap="butt"/>
<text transform="translate(504.352 1009.9) scale(1 1.04)" font-size="34.6"><tspan x="0" font-size="34.6">A413V</tspan><tspan x="106.799" font-size="33.592" font-family='"Liberation Serif", serif' font-weight="normal">–</tspan><tspan x="124.715" font-size="34.655" font-family='"Liberation Serif", serif' font-weight="normal">Δ</tspan><tspan x="146.132" font-size="34.6">C</tspan></text>
<text transform="translate(442.196 1142.8) scale(1 1.04)" font-size="34.6">A413V-NOHRET</text>
<text transform="translate(878.519 43.4) scale(1 1.092)" font-size="47.023">C</text>
<text transform="translate(1274.049 116.6) scale(1 1.04)" font-size="41.8">HEK</text>
<text transform="translate(897 548.318) rotate(-90) scale(1 0.985)" font-size="41.45">current density (nA/pF)</text>
<line x1="1137.6" y1="382.8" x2="1137.6" y2="439.9" stroke-width="2.4"/>
<line x1="1112.6" y1="382.8" x2="1162.6" y2="382.8" stroke-width="2.4"/>
<line x1="1137.6" y1="466.5" x2="1137.6" y2="481.5" stroke-width="2.4"/>
<line x1="1112.6" y1="481.5" x2="1162.6" y2="481.5" stroke-width="2.4"/>
<rect x="1084.40" y="439.90" width="106.40" height="26.60" fill="#cccccc" stroke="#000" stroke-width="2.4"/>
<line x1="1084.3999999999999" y1="462.9" x2="1190.8" y2="462.9" stroke-width="2.4"/>
<line x1="1084.3999999999999" y1="449.5" x2="1129.0" y2="449.5" stroke-width="2.4"/>
<line x1="1146.1999999999998" y1="449.5" x2="1190.8" y2="449.5" stroke-width="2.4"/>
<circle cx="1137.6" cy="346.1" r="11.4" fill="#000" stroke="none"/>
<circle cx="1137.6" cy="484.7" r="11.4" fill="#000" stroke="none"/>
<line x1="1315.5" y1="192.7" x2="1315.5" y2="278.8" stroke-width="2.4"/>
<line x1="1290.5" y1="192.7" x2="1340.5" y2="192.7" stroke-width="2.4"/>
<line x1="1315.5" y1="458.3" x2="1315.5" y2="474.1" stroke-width="2.4"/>
<line x1="1290.5" y1="474.1" x2="1340.5" y2="474.1" stroke-width="2.4"/>
<rect x="1262.30" y="278.80" width="106.40" height="179.50" fill="#cccccc" stroke="#000" stroke-width="2.4"/>
<line x1="1262.3" y1="406.7" x2="1368.7" y2="406.7" stroke-width="2.4"/>
<line x1="1262.3" y1="365.5" x2="1306.9" y2="365.5" stroke-width="2.4"/>
<line x1="1324.1" y1="365.5" x2="1368.7" y2="365.5" stroke-width="2.4"/>
<circle cx="1315.5" cy="133.6" r="11.4" fill="#000" stroke="none"/>
<circle cx="1315.5" cy="480.6" r="11.4" fill="#000" stroke="none"/>
<line x1="1468.3" y1="492.0" x2="1518.3" y2="492.0" stroke-width="2.4"/>
<rect x="1439.20" y="491.60" width="109.00" height="7.20" rx="1.2" fill="#000"/>
<circle cx="1493.3" cy="491.4" r="11.6" fill="#000" stroke="none"/>
<circle cx="1493.3" cy="496.9" r="11.6" fill="#000" stroke="none"/>
<line x1="1022.2" y1="124.6" x2="1022.2" y2="516.4" stroke-width="9.4"/>
<line x1="1022.2" y1="516.4" x2="1609.3" y2="516.4" stroke-width="9.4"/>
<line x1="1002.2" y1="497.8" x2="1022.2" y2="497.8" stroke-width="9.4"/>
<text transform="translate(937.1 509.85) scale(1 1.04)" font-size="34.6">0.0</text>
<line x1="1002.2" y1="404.5" x2="1022.2" y2="404.5" stroke-width="9.4"/>
<text transform="translate(937.1 416.55) scale(1 1.04)" font-size="34.6">0.5</text>
<line x1="1002.2" y1="311.20000000000005" x2="1022.2" y2="311.20000000000005" stroke-width="9.4"/>
<text transform="translate(937.1 323.25) scale(1 1.04)" font-size="34.6">1.0</text>
<line x1="1002.2" y1="217.90000000000003" x2="1022.2" y2="217.90000000000003" stroke-width="9.4"/>
<text transform="translate(937.1 229.95) scale(1 1.04)" font-size="34.6">1.5</text>
<line x1="1002.2" y1="124.60000000000002" x2="1022.2" y2="124.60000000000002" stroke-width="9.4"/>
<text transform="translate(937.1 136.65) scale(1 1.04)" font-size="34.6">2.0</text>
<text transform="translate(1063.712 584) scale(1 1.04)" font-size="31.45">A413V-FL</text>
<text transform="translate(1237.043 586.2) scale(1 1.04)" font-size="31.45"><tspan x="0" font-size="31.45">A413V-</tspan><tspan x="104.675" font-size="31.072" font-family='"Liberation Serif", serif' font-weight="normal">Δ</tspan><tspan x="123.999" font-size="31.45">C</tspan></text>
<text transform="translate(1409.172 584) scale(1 1.04)" font-size="31.45">A413V-NOHRET</text>
<text transform="translate(878.56 760.6) scale(1 1.058)" font-size="48">D</text>
<text transform="translate(1274.302 853.6) scale(1 1.04)" font-size="41.8">CHO</text>
<text transform="translate(897 1254.018) rotate(-90) scale(1 0.985)" font-size="41.45">current density (nA/pF)</text>
<line x1="1137.8" y1="858.5" x2="1137.8" y2="939.5" stroke-width="2.4"/>
<line x1="1112.8" y1="858.5" x2="1162.8" y2="858.5" stroke-width="2.4"/>
<line x1="1137.8" y1="1086.1" x2="1137.8" y2="1095.9" stroke-width="2.4"/>
<line x1="1112.8" y1="1095.9" x2="1162.8" y2="1095.9" stroke-width="2.4"/>
<rect x="1084.60" y="939.50" width="106.40" height="146.60" fill="#cccccc" stroke="#000" stroke-width="2.4"/>
<line x1="1084.6" y1="1064.2" x2="1191.0" y2="1064.2" stroke-width="2.4"/>
<line x1="1084.6" y1="1023.1" x2="1129.2" y2="1023.1" stroke-width="2.4"/>
<line x1="1146.3999999999999" y1="1023.1" x2="1191.0" y2="1023.1" stroke-width="2.4"/>
<circle cx="1137.8" cy="858.1" r="11.4" fill="#000" stroke="none"/>
<circle cx="1137.8" cy="1095.8" r="11.4" fill="#000" stroke="none"/>
<line x1="1315.6" y1="941.5" x2="1315.6" y2="966.2" stroke-width="2.4"/>
<line x1="1290.6" y1="941.5" x2="1340.6" y2="941.5" stroke-width="2.4"/>
<line x1="1315.6" y1="1128.9" x2="1315.6" y2="1138.3" stroke-width="2.4"/>
<line x1="1290.6" y1="1138.3" x2="1340.6" y2="1138.3" stroke-width="2.4"/>
<rect x="1262.40" y="966.20" width="106.40" height="162.70" fill="#cccccc" stroke="#000" stroke-width="2.4"/>
<line x1="1262.3999999999999" y1="1007.6" x2="1368.8" y2="1007.6" stroke-width="2.4"/>
<line x1="1262.3999999999999" y1="1039.3" x2="1307.0" y2="1039.3" stroke-width="2.4"/>
<line x1="1324.1999999999998" y1="1039.3" x2="1368.8" y2="1039.3" stroke-width="2.4"/>
<circle cx="1315.6" cy="941.5" r="11.4" fill="#000" stroke="none"/>
<circle cx="1315.6" cy="1138.3" r="11.4" fill="#000" stroke="none"/>
<line x1="1468.3" y1="1167.5" x2="1518.3" y2="1167.5" stroke-width="2.4"/>
<rect x="1439.20" y="1171.80" width="109.00" height="7.20" rx="1.2" fill="#000"/>
<circle cx="1493.3" cy="1167.4" r="11.6" fill="#000" stroke="none"/>
<circle cx="1493.3" cy="1177.1" r="11.6" fill="#000" stroke="none"/>
<line x1="1022.2" y1="830.3" x2="1022.2" y2="1221.8" stroke-width="9.4"/>
<line x1="1022.2" y1="1221.8" x2="1609.3" y2="1221.8" stroke-width="9.4"/>
<line x1="1002.2" y1="1178.7" x2="1022.2" y2="1178.7" stroke-width="9.4"/>
<text transform="translate(937.1 1190.75) scale(1 1.04)" font-size="34.6">0.0</text>
<line x1="1002.2" y1="1004.5" x2="1022.2" y2="1004.5" stroke-width="9.4"/>
<text transform="translate(937.1 1016.55) scale(1 1.04)" font-size="34.6">0.4</text>
<line x1="1002.2" y1="830.3000000000001" x2="1022.2" y2="830.3000000000001" stroke-width="9.4"/>
<text transform="translate(937.1 842.35) scale(1 1.04)" font-size="34.6">0.8</text>
<text transform="translate(1054.962 1278.1) scale(1 1.04)" font-size="31.45">A413V-FL</text>
<text transform="translate(1226.693 1280.2) scale(1 1.04)" font-size="31.45"><tspan x="0" font-size="31.45">A413V-</tspan><tspan x="104.614" font-size="31.263" font-family='"Liberation Serif", serif' font-weight="normal">Δ</tspan><tspan x="124.199" font-size="31.45">C</tspan></text>
<text transform="translate(1392.922 1278.1) scale(1 1.04)" font-size="31.45">A413V-NOHRET</text>
</svg>
</body>
</html>
